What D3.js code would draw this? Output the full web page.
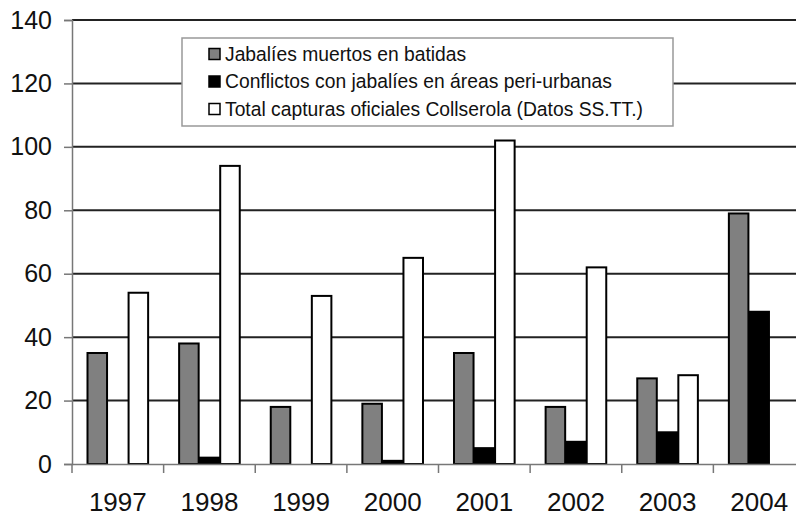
<!DOCTYPE html>
<html><head><meta charset="utf-8">
<script src="https://cdn.jsdelivr.net/npm/d3@7"></script>
<style>body{margin:0;background:#fff}svg{display:block}</style>
</head><body><svg id="c" width="796" height="516"></svg>
<script>
const years = ["1997","1998","1999","2000","2001","2002","2003","2004"];
const seriesNames = ["Jabalíes muertos en batidas","Conflictos con jabalíes en áreas peri-urbanas","Total capturas oficiales Collserola (Datos SS.TT.)"];
const muertos = [35,38,18,19,35,18,27,79];
const conflictos = [0,2,0,1,5,7,10,48];
const totales = [54,94,53,65,102,62,28,0];
const yTicks = [0,20,40,60,80,100,120,140];
const colors = ["#808080","#000000","#ffffff"];

const svg = d3.select("#c");
const m = {l:72, t:20, r:-9, b:52};
const W = 796, H = 516;
const FONT = "Liberation Sans, Arial, sans-serif";
const x = d3.scaleBand().domain(years).range([m.l, W - m.r]).paddingInner(0).paddingOuter(0);
const y = d3.scaleLinear().domain([0,140]).range([464, 20]);
const inner = d3.scaleBand().domain([0,1,2]).range([0, x.bandwidth()]).paddingInner(0).paddingOuter(0.73);

// gridlines
svg.append("g").selectAll("line").data(yTicks.filter(d=>d>0)).join("line")
  .attr("x1", m.l).attr("x2", W - m.r).attr("y1", d=>y(d)).attr("y2", d=>y(d))
  .attr("stroke","#222").attr("stroke-width",2);

// y axis
const ya = svg.append("g").attr("transform",`translate(${m.l},0)`)
  .call(d3.axisLeft(y).tickValues(yTicks).tickSize(8).tickPadding(12));
ya.select(".domain").attr("stroke","#777").attr("stroke-width",1.5);
ya.selectAll(".tick line").attr("stroke","#777").attr("stroke-width",1.5);
ya.selectAll("text").attr("font-family",FONT).attr("font-size",25).attr("fill","#111");

// bars
const data = [muertos, conflictos, totales];
const g = svg.append("g");
years.forEach((yr,i)=>{
  data.forEach((s,k)=>{
    const v = s[i];
    if (!v) return;
    g.append("rect")
      .attr("x", x(yr) + inner(k) + 0.5)
      .attr("y", y(v))
      .attr("width", inner.bandwidth() - 1)
      .attr("height", y(0) - y(v))
      .attr("fill", colors[k]).attr("stroke","#000").attr("stroke-width",2);
  });
});

// x axis
const xa = svg.append("g").attr("transform",`translate(0,${y(0)})`)
  .call(d3.axisBottom(x).tickSize(0).tickPadding(29));
xa.select(".domain").attr("stroke","#777").attr("stroke-width",1.5);
xa.selectAll("text").attr("font-family",FONT).attr("font-size",26).attr("fill","#111");
svg.append("g").selectAll("line").data(years).join("line")
  .attr("x1",d=>x(d)).attr("x2",d=>x(d)).attr("y1",y(0)).attr("y2",y(0)+9)
  .attr("stroke","#777").attr("stroke-width",1.5);

// legend
const lg = svg.append("g");
lg.append("rect").attr("x",182).attr("y",38).attr("width",491).attr("height",88)
  .attr("fill","#fff").attr("stroke","#999").attr("stroke-width",1.5);
seriesNames.forEach((n,k)=>{
  const cy = 54 + k*27.5;
  lg.append("rect").attr("x",209).attr("y",cy-5.5).attr("width",11).attr("height",11)
    .attr("fill",colors[k]).attr("stroke","#000").attr("stroke-width",1.5);
  lg.append("text").attr("x",225).attr("y",cy).attr("dy","0.35em")
    .attr("font-family",FONT).attr("font-size",19.3).attr("fill","#111").text(n);
});
</script></body></html>
